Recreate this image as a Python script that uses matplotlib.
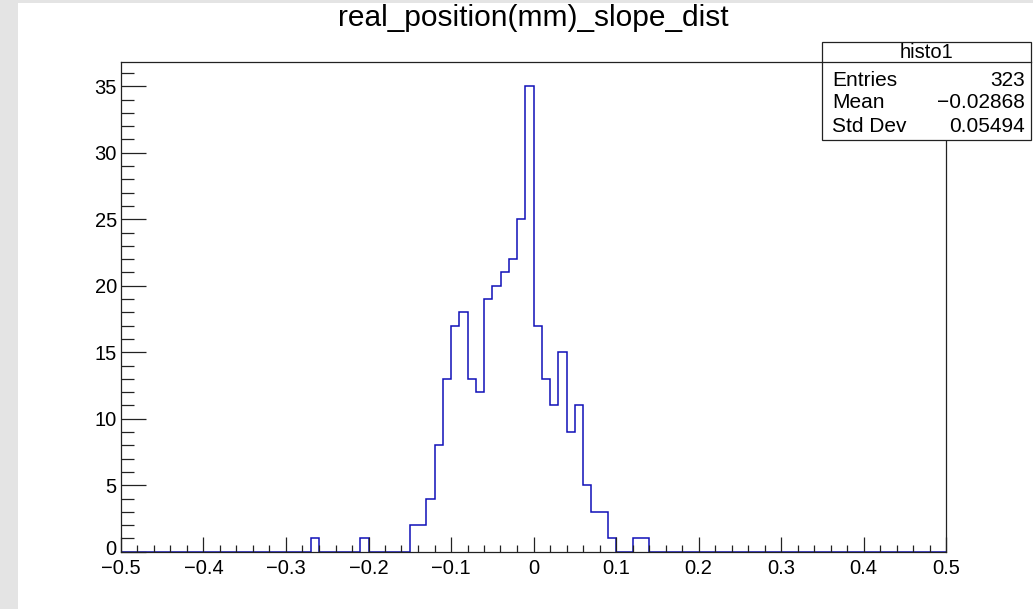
import numpy as np
import matplotlib
matplotlib.use("Agg")
from matplotlib import pyplot as plt
from matplotlib.patches import Rectangle
from matplotlib.ticker import FixedLocator, MultipleLocator
from matplotlib.transforms import ScaledTranslation

# ------------------------------------------------------------------
# datos del histograma (100 bins entre -0.5 y 0.5)
# ------------------------------------------------------------------
n_bins = 100
x_min, x_max = -0.5, 0.5
bin_index = [23, 29, 35, 36, 37, 38, 39, 40, 41, 42, 43, 44, 45, 46, 47,
             48, 49, 50, 51, 52, 53, 54, 55, 56, 57, 58, 59, 62, 63]
bin_count = [1, 1, 2, 2, 4, 8, 13, 17, 18, 13, 12, 19, 20, 21, 22,
             25, 35, 17, 13, 11, 15, 9, 11, 5, 3, 3, 1, 1, 1]

titulo = "real_position(mm)_slope_dist"
xticks = [-0.5, -0.4, -0.3, -0.2, -0.1, 0, 0.1, 0.2, 0.3, 0.4, 0.5]
xlabels = ["\u22120.5", "\u22120.4", "\u22120.3", "\u22120.2", "\u22120.1",
           "0", "0.1", "0.2", "0.3", "0.4", "0.5"]
yticks = [0, 5, 10, 15, 20, 25, 30, 35]

stats_name = "histo1"
stats_rows = [("Entries", "323"), ("Mean", "\u22120.02868"), ("Std Dev", "0.05494")]

# ------------------------------------------------------------------
counts = np.zeros(n_bins)
counts[bin_index] = bin_count
edges = np.linspace(x_min, x_max, n_bins + 1)

plt.rcParams['font.family'] = ['Liberation Sans', 'DejaVu Sans']

W, H = 1033, 609
fig = plt.figure(figsize=(W / 100, H / 100), dpi=100)

# marco gris de la ventana
fig.patches.append(Rectangle((0, 0), 18 / W, 1, transform=fig.transFigure,
                             facecolor='#e4e4e4', edgecolor='none', zorder=0))
fig.patches.append(Rectangle((0, 1 - 2.5 / H), 1, 2.5 / H, transform=fig.transFigure,
                             facecolor='#e4e4e4', edgecolor='none', zorder=0))

ax = fig.add_axes([121 / W, 1 - 551.7 / H, (946 - 121) / W, (551.7 - 62.3) / H])
ax.stairs(counts, edges, color='#1010b8', linewidth=1.1, baseline=0)

ax.set_xlim(x_min, x_max)
ax.set_ylim(0, 36.8)

ax.xaxis.set_major_locator(FixedLocator(xticks))
ax.set_xticklabels(xlabels)
ax.xaxis.set_minor_locator(MultipleLocator(0.02))
ax.yaxis.set_major_locator(FixedLocator(yticks))
ax.set_yticklabels([str(v) for v in yticks])
ax.yaxis.set_minor_locator(MultipleLocator(1))

ax.tick_params(axis='both', which='both', direction='in', top=False, right=False,
               colors='#222222', labelcolor='black', labelsize=14.5, width=0.9)
ax.tick_params(axis='y', which='major', length=18, pad=3)
ax.tick_params(axis='y', which='minor', length=9.4)
ax.tick_params(axis='x', which='major', length=10.8, pad=5)
ax.tick_params(axis='x', which='minor', length=5.2)
for s in ax.spines.values():
    s.set_color('#222222')
    s.set_linewidth(0.9)

# el "0" del eje y va un poco mas arriba, como en ROOT
lab0 = ax.get_yticklabels()[0]
lab0.set_transform(lab0.get_transform() + ScaledTranslation(0, 4 / 100, fig.dpi_scale_trans))

fig.text(533 / W, 1 - 18 / H, titulo, ha='center', va='center', fontsize=21.5)

# caja de estadisticas
bx0, bx1, by0, by1, bhead = 822, 1031, 41.7, 140, 62.3
fig.patches.append(Rectangle((bx0 / W, 1 - by1 / H), (bx1 - bx0) / W, (by1 - by0) / H,
                             transform=fig.transFigure, facecolor='white',
                             edgecolor='#222222', linewidth=0.9, zorder=5))
fig.lines.append(plt.Line2D([bx0 / W, bx1 / W], [1 - bhead / H, 1 - bhead / H],
                            transform=fig.transFigure, color='#222222',
                            linewidth=0.9, zorder=6))
fig.text((bx0 + bx1) / 2 / W, 1 - 52 / H, stats_name, ha='center', va='center',
         fontsize=14.5, zorder=7)
for k, (nombre, valor) in enumerate(stats_rows):
    yy = 1 - (80 + 23 * k) / H
    fig.text(832 / W, yy, nombre, ha='left', va='center', fontsize=15, zorder=7)
    fig.text(1025 / W, yy, valor, ha='right', va='center', fontsize=15, zorder=7)

fig.savefig("out.png", dpi=100)
